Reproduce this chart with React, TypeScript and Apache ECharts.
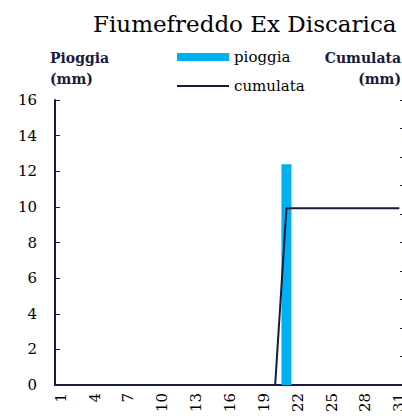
import React, { useEffect, useRef } from "react";
import * as echarts from "echarts";

const days = ["1","2","3","4","5","6","7","8","9","10","11","12","13","14","15","16","17","18","19","20","21","22","23","24","25","26","27","28","29","30","31"];
const pioggia = [0,0,0,0,0,0,0,0,0,0,0,0,0,0,0,0,0,0,0,0,12.4,0,0,0,0,0,0,0,0,0,0];
const cumulata = [0,0,0,0,0,0,0,0,0,0,0,0,0,0,0,0,0,0,0,0,12.4,12.4,12.4,12.4,12.4,12.4,12.4,12.4,12.4,12.4,12.4];

const FONT = "DejaVu Serif";
const NAVY = "#1b1a3a";

export default function App() {
  const ref = useRef<HTMLDivElement>(null);
  useEffect(() => {
    const chart = echarts.init(ref.current!, null, { renderer: "svg" });
    chart.setOption({
      animation: false,
      textStyle: { fontFamily: FONT },
      title: {
        text: "Fiumefreddo Ex Discarica",
        left: 88,
        top: 7,
        textStyle: { fontFamily: FONT, fontSize: 23, fontWeight: "normal", color: "#000" },
      },
      legend: {
        orient: "vertical",
        left: 176,
        top: 49,
        padding: 0,
        itemWidth: 52,
        itemHeight: 8,
        itemGap: 13,
        textStyle: { fontFamily: FONT, fontSize: 15, color: "#000", lineHeight: 16 },
        data: [
          { name: "pioggia", icon: "rect" },
          { name: "cumulata", itemStyle: { opacity: 0 } },
        ],
      },
      graphic: [
        {
          type: "text",
          left: 50,
          top: 47,
          style: {
            text: "Pioggia\n(mm)",
            font: "bold 14px 'DejaVu Serif'",
            fill: NAVY,
            lineHeight: 21,
            textAlign: "left",
          },
        },
        {
          type: "text",
          x: 401,
          y: 47,
          style: {
            text: "Cumulata\n(mm)",
            font: "bold 14px 'DejaVu Serif'",
            fill: NAVY,
            lineHeight: 21,
            align: "right",
          },
        },
      ],
      grid: { left: 55, top: 100, width: 350, height: 285, containLabel: false },
      xAxis: {
        type: "category",
        data: days,
        axisLine: { lineStyle: { color: NAVY, width: 2 } },
        axisTick: { show: false },
        axisLabel: { interval: 2, rotate: 90, margin: 8, fontFamily: FONT, fontSize: 15, color: "#000" },
      },
      yAxis: [
        {
          type: "value",
          min: 0,
          max: 16,
          interval: 2,
          splitLine: { show: false },
          axisLine: { show: true, lineStyle: { color: NAVY, width: 2 } },
          axisTick: { show: true, inside: true, length: 5, lineStyle: { color: NAVY } },
          axisLabel: { margin: 18, fontFamily: FONT, fontSize: 15, color: "#000" },
        },
        {
          type: "value",
          min: 0,
          max: 20,
          interval: 2,
          position: "right",
          splitLine: { show: false },
          axisLine: { show: true, lineStyle: { color: NAVY, width: 2 } },
          axisTick: { show: true, inside: true, length: 5, lineStyle: { color: NAVY } },
          axisLabel: { show: false },
        },
      ],
      series: [
        {
          name: "pioggia",
          type: "bar",
          yAxisIndex: 0,
          data: pioggia,
          barWidth: 10,
          itemStyle: { color: "#00B0F0" },
        },
        {
          name: "cumulata",
          type: "line",
          yAxisIndex: 1,
          data: cumulata,
          symbol: "none",
          lineStyle: { color: NAVY, width: 2 },
          itemStyle: { color: NAVY },
        },
      ],
    });
    return () => chart.dispose();
  }, []);
  return (
    <div
      ref={ref}
      style={{ position: "fixed", left: 0, top: 0, width: 470, height: 416, background: "#fff" }}
    />
  );
}
